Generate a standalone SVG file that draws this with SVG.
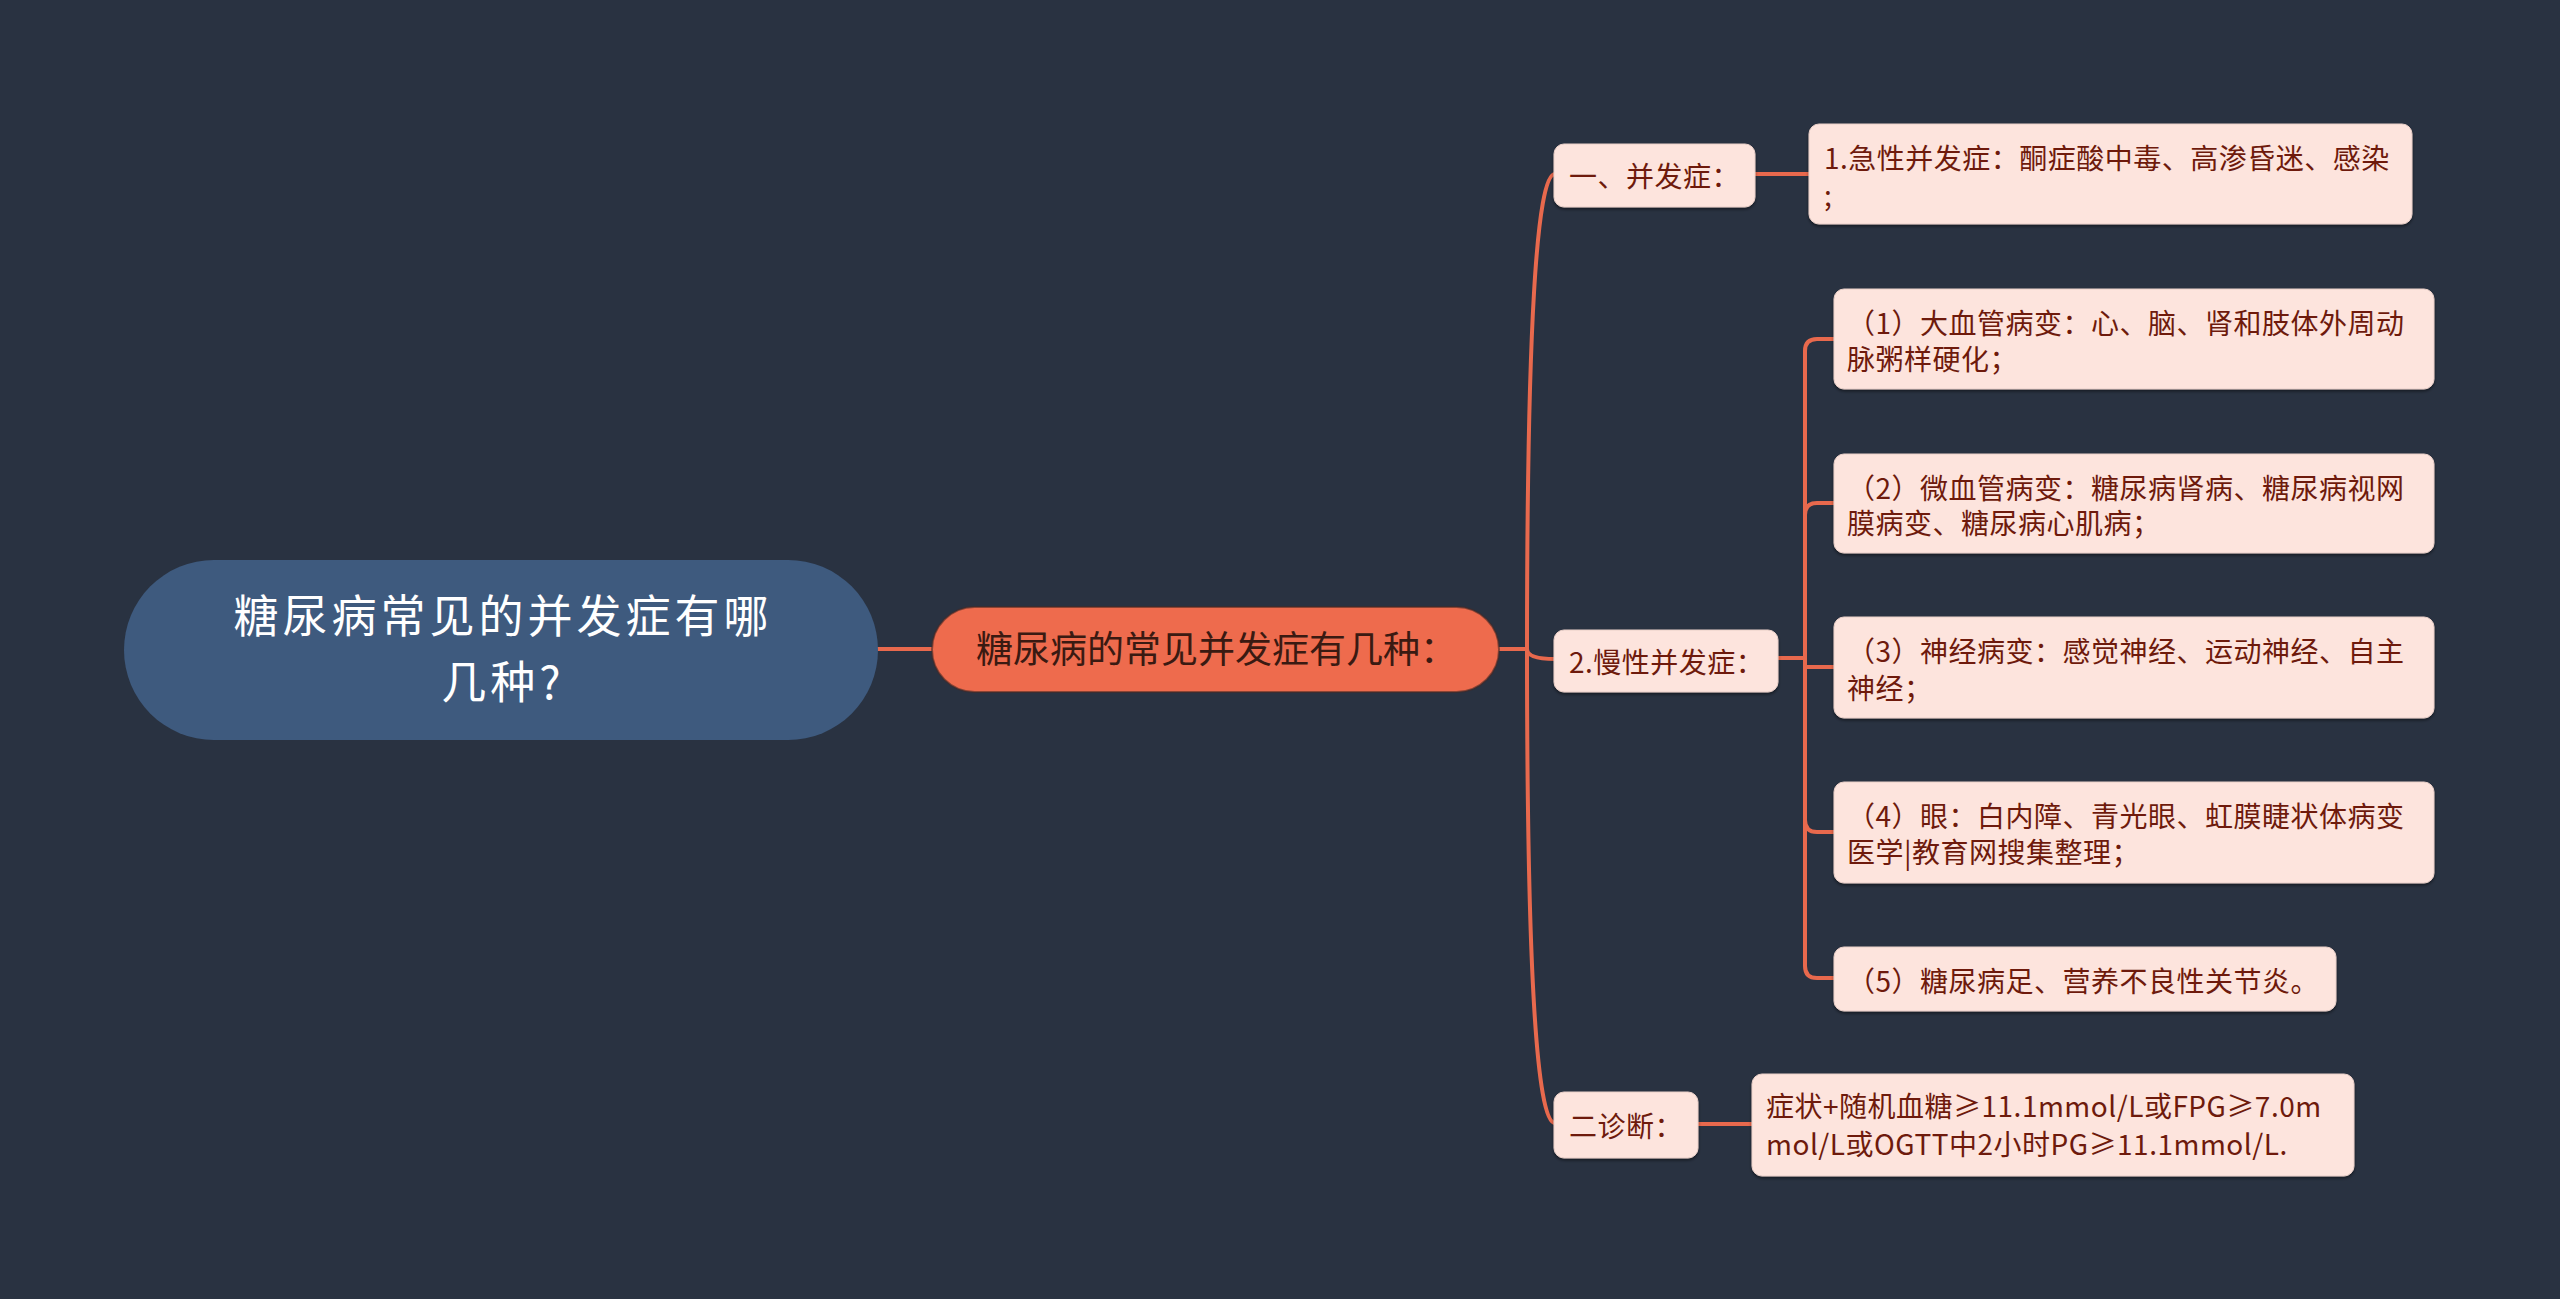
<svg xmlns="http://www.w3.org/2000/svg" width="2560" height="1299" viewBox="0 0 2560 1299">
<defs>
<style>
.bg{fill:#293241}
.link{fill:none;stroke:#e8694d;stroke-width:4;stroke-linecap:round}
.sub{fill:#fde4dd;stroke:#e9cfc8;stroke-width:1;filter:url(#sh)}
.t{font-family:"Noto Sans CJK SC","Noto Sans",sans-serif;dominant-baseline:central}
.st{font-size:28px;letter-spacing:0.5px;fill:#6e1a0c}
</style>
<filter id="sh" x="-5%" y="-10%" width="110%" height="130%">
<feDropShadow dx="0" dy="2" stdDeviation="1.5" flood-color="#000" flood-opacity="0.45"/>
</filter>
</defs>
<rect class="bg" x="0" y="0" width="2560" height="1299"/>

<g id="connectors">
<path class="link" d="M878,649 H932"/>
<path class="link" d="M1499,649 H1527"/>
<path class="link" d="M1527,649 Q1527,174 1555,174"/>
<path class="link" d="M1527,649 Q1527,659 1555,659"/>
<path class="link" d="M1527,649 Q1527,1123 1555,1123"/>
<path class="link" d="M1755,174 H1809"/>
<path class="link" d="M1698,1124 H1752"/>
<path class="link" d="M1778,658 H1805 V351 Q1805,339 1817,339 H1834"/>
<path class="link" d="M1805,515 Q1805,503 1817,503 H1834"/>
<path class="link" d="M1805,658 V667 H1834"/>
<path class="link" d="M1805,658 V820 Q1805,832 1817,832 H1834"/>
<path class="link" d="M1805,820 V966 Q1805,978 1817,978 H1834"/>
</g>

<g id="root">
<rect x="124" y="560" width="754" height="180" rx="90" fill="#3e5a7e"/>
<text class="t" x="503" y="613" text-anchor="middle" font-size="45" letter-spacing="4" fill="#ffffff">糖尿病常见的并发症有哪</text>
<text class="t" x="503" y="679" text-anchor="middle" font-size="45" letter-spacing="4" fill="#ffffff">几种?</text>
</g>

<g id="main">
<rect x="932" y="607" width="567" height="85" rx="42.5" fill="#ee6b4d" stroke="#4a2a24" stroke-opacity="0.6" stroke-width="2"/>
<text class="t" x="976" y="647" font-size="37" fill="#3a1a12">糖尿病的常见并发症有几种：</text>
</g>

<g id="n-bingfa">
<rect class="sub" x="1554" y="144" width="201" height="63" rx="10"/>
<text class="t st" x="1569" y="175">一、并发症：</text>
</g>

<g id="n-manxing">
<rect class="sub" x="1554" y="630" width="224" height="62" rx="10"/>
<text class="t st" x="1569" y="661">2.慢性并发症：</text>
</g>

<g id="n-zhenduan">
<rect class="sub" x="1554" y="1092" width="144" height="66" rx="10"/>
<text class="t st" x="1569" y="1125">二诊断：</text>
</g>

<g id="n-jixing">
<rect class="sub" x="1809" y="124" width="603" height="100" rx="10"/>
<text class="t st" x="1824" y="157">1.急性并发症：酮症酸中毒、高渗昏迷、感染</text>
<text class="t st" x="1824" y="194">;</text>
</g>

<g id="n-1">
<rect class="sub" x="1834" y="289" width="600" height="100" rx="10"/>
<text class="t st" x="1847" y="322">（1）大血管病变：心、脑、肾和肢体外周动</text>
<text class="t st" x="1847" y="358">脉粥样硬化；</text>
</g>

<g id="n-2">
<rect class="sub" x="1834" y="454" width="600" height="99" rx="10"/>
<text class="t st" x="1847" y="487">（2）微血管病变：糖尿病肾病、糖尿病视网</text>
<text class="t st" x="1847" y="522">膜病变、糖尿病心肌病；</text>
</g>

<g id="n-3">
<rect class="sub" x="1834" y="617" width="600" height="101" rx="10"/>
<text class="t st" x="1847" y="650">（3）神经病变：感觉神经、运动神经、自主</text>
<text class="t st" x="1847" y="687">神经；</text>
</g>

<g id="n-4">
<rect class="sub" x="1834" y="782" width="600" height="101" rx="10"/>
<text class="t st" x="1847" y="815">（4）眼：白内障、青光眼、虹膜睫状体病变</text>
<text class="t st" x="1847" y="851">医学|教育网搜集整理；</text>
</g>

<g id="n-5">
<rect class="sub" x="1834" y="947" width="502" height="64" rx="10"/>
<text class="t st" x="1847" y="980">（5）糖尿病足、营养不良性关节炎。</text>
</g>

<g id="n-diag">
<rect class="sub" x="1752" y="1074" width="602" height="102" rx="10"/>
<text class="t st" x="1766" y="1105">症状+随机血糖≥11.1mmol/L或FPG≥7.0m</text>
<text class="t st" x="1766" y="1143">mol/L或OGTT中2小时PG≥11.1mmol/L.</text>
</g>
</svg>
